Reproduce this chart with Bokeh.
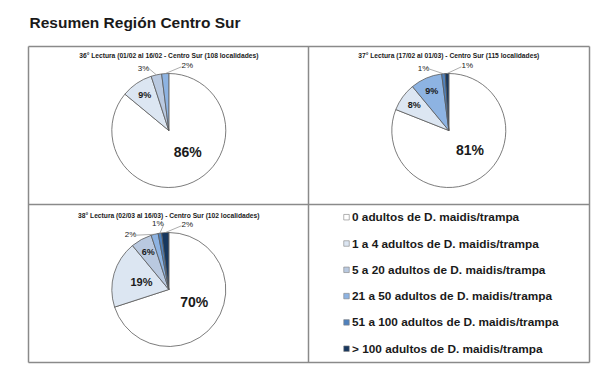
import math
from bokeh.plotting import figure
from bokeh.models import Range1d, ColumnDataSource
from bokeh.core.properties import value
from bokeh.embed import file_html
from bokeh.resources import INLINE

# ---------------- data ----------------
main_title = "Resumen Región Centro Sur"
categories = [
    "0 adultos de D. maidis/trampa",
    "1 a 4 adultos de D. maidis/trampa",
    "5 a 20 adultos de D. maidis/trampa",
    "21 a 50 adultos de D. maidis/trampa",
    "51 a 100 adultos de D. maidis/trampa",
    "> 100 adultos de D. maidis/trampa",
]
pie_titles = [
    "36° Lectura (01/02 al 16/02 - Centro Sur (108 localidades)",
    "37° Lectura (17/02 al 01/03) - Centro Sur (115 localidades)",
    "38° Lectura (02/03 al 16/03) - Centro Sur (102 localidades)",
]
lectura36 = [86, 9, 3, 2, 0, 0]
lectura37 = [81, 8, 0, 9, 1, 1]
lectura38 = [70, 19, 6, 2, 1, 2]

# ---------------- style / layout ----------------
colors = ["#ffffff", "#dce6f2", "#b9c9e0", "#8db3e2", "#4f81bd", "#17375e"]
FONT = value("Liberation Sans")
W, H = 592, 375
PAGE_H = 383
R = 57
GRID_X = [28, 308, 589]
GRID_Y = [46, 204, 362]
pie_centers = [(168.3, 130), (448.3, 130), (168.3, 289)]
title_y = [55, 55, 215]
legend_x = 346
legend_y0 = 216.7
legend_dy = 26.3


def Y(sy):
    return PAGE_H - sy


p = figure(width=W, height=H, x_range=Range1d(0, W), y_range=Range1d(PAGE_H - H, PAGE_H),
           output_backend="svg", toolbar_location=None, min_border=0,
           x_axis_location=None, y_axis_location=None)
p.grid.visible = False
p.outline_line_color = None
p.background_fill_color = "white"

# panel grid
gx0, gx1, gx2 = GRID_X
gy0, gy1, gy2 = GRID_Y
p.segment(x0=[gx0, gx0, gx0, gx2, gx1, gx0], y0=[Y(gy0), Y(gy2), Y(gy0), Y(gy0), Y(gy0), Y(gy1)],
          x1=[gx2, gx2, gx0, gx2, gx1, gx2], y1=[Y(gy0), Y(gy2), Y(gy2), Y(gy2), Y(gy2), Y(gy1)],
          line_color="#8a8a8a", line_width=1.5)

# main title
p.text(x=[29], y=[Y(21.7)], text=[main_title], text_font=FONT, text_font_size=value("15.5px"),
       text_font_style="bold", text_color="#1a1a1a", text_align="left", text_baseline="middle")

series = [lectura36, lectura37, lectura38]
for (cx, cy), vals, ttl, ty in zip(pie_centers, series, pie_titles, title_y):
    total = float(sum(vals))
    w = dict(sa=[], ea=[], color=[])
    lab = dict(x=[], y=[], text=[], size=[], style=[])
    outside = []
    cum = 0.0
    for v, c in zip(vals, colors):
        if v <= 0:
            continue
        a0 = cum / total * 360.0
        a1 = (cum + v) / total * 360.0
        cum += v
        w["sa"].append(math.radians(90 - a1))
        w["ea"].append(math.radians(90 - a0))
        w["color"].append(c)
        mid = (a0 + a1) / 2
        if v >= 5:
            r = 0.5 * R if v >= 15 else 0.75 * R
            ang = mid - 0.25 * (mid - 90) if v >= 50 else mid
            lab["x"].append(cx + r * math.sin(math.radians(ang)))
            lab["y"].append(Y(cy - r * math.cos(math.radians(ang))))
            lab["text"].append(f"{v}%")
            lab["size"].append("14px" if v >= 50 else ("11px" if v >= 15 else "9px"))
            lab["style"].append("bold")
        else:
            outside.append((v, mid))
    p.wedge(x=cx, y=Y(cy), radius=R, start_angle="sa", end_angle="ea", fill_color="color",
            line_color="#5a5a5a", line_width=0.8, source=ColumnDataSource(w))

    n = len(outside)
    seg = dict(x0=[], y0=[], x1=[], y1=[])
    if n:
        gap = 76.0 / n
        for k, (v, mid) in enumerate(outside):
            ang = 16 - (n - 1 - k) * gap
            rr = 1.18 * R
            lx = cx + rr * math.sin(math.radians(ang))
            ly = cy - rr * math.cos(math.radians(ang))
            lab["x"].append(lx)
            lab["y"].append(Y(ly))
            lab["text"].append(f"{v}%")
            lab["size"].append("8px")
            lab["style"].append("normal")
            ax = cx + R * math.sin(math.radians(mid))
            ay = cy - R * math.cos(math.radians(mid))
            sx = lx + 6 if lx < ax else lx - 6
            seg["x0"].append(sx)
            seg["y0"].append(Y(ly + 1))
            seg["x1"].append(ax)
            seg["y1"].append(Y(ay))
        p.segment(x0="x0", y0="y0", x1="x1", y1="y1", line_color="#8a8a8a", line_width=0.7,
                  source=ColumnDataSource(seg))

    p.text(x="x", y="y", text="text", text_font=FONT, text_font_size="size", text_font_style="style",
           text_color="#1a1a1a", text_align="center", text_baseline="middle",
           source=ColumnDataSource(lab))

    p.text(x=[cx], y=[Y(ty)], text=[ttl], text_font=FONT, text_font_size=value("6.7px"),
           text_font_style="bold", text_color="#1a1a1a", text_align="center", text_baseline="middle")

# legend
ly = [Y(legend_y0 + i * legend_dy) for i in range(len(categories))]
p.rect(x=[legend_x] * len(categories), y=ly, width=5.5, height=5.5, fill_color=colors,
       line_color="#7f7f7f", line_width=0.6)
p.text(x=[legend_x + 5.5] * len(categories), y=ly, text=categories, text_font=FONT,
       text_font_size=value("11.8px"), text_font_style="bold", text_color="#1a1a1a",
       text_align="left", text_baseline="middle")

open("out.html", "w").write(file_html(p, INLINE))
